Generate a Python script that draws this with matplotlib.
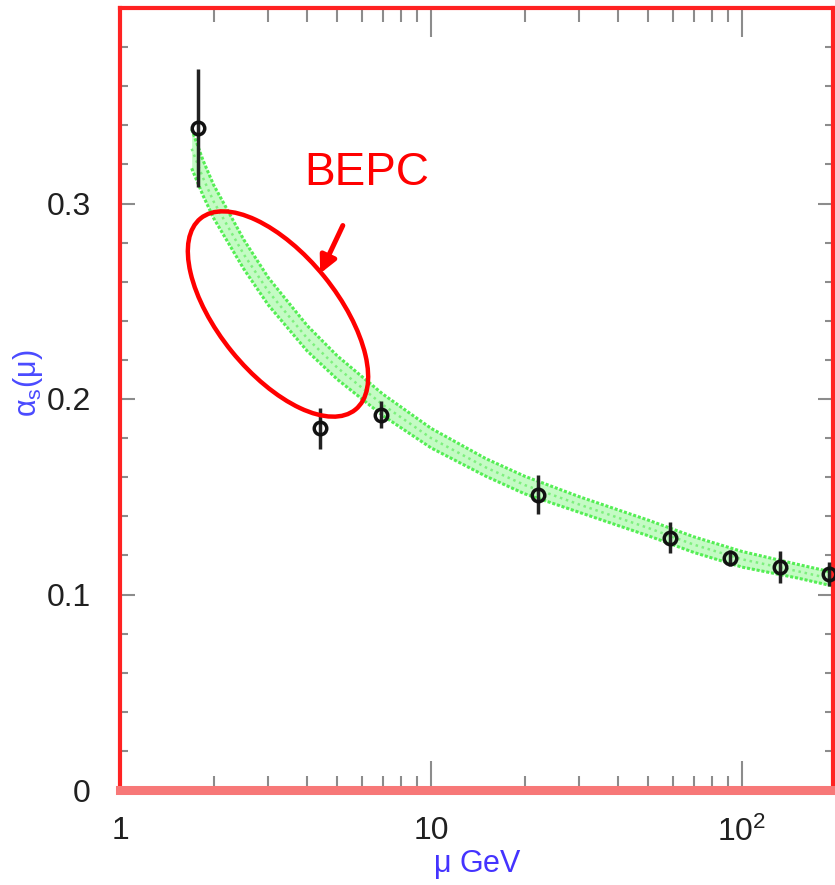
import numpy as np
import matplotlib.pyplot as plt
from matplotlib.patches import Ellipse
from matplotlib.ticker import FixedLocator, FixedFormatter, MultipleLocator

plt.rcParams['font.family'] = ['Liberation Sans', 'DejaVu Sans']
plt.rcParams['mathtext.default'] = 'regular'

# measurements of alpha_s(mu)
mu = [1.78, 4.4, 6.9, 22.1, 58.7, 91.5, 132.5, 190.5]
alpha = [0.3386, 0.185, 0.192, 0.151, 0.129, 0.1187, 0.114, 0.1105]
err = [0.030, 0.0105, 0.007, 0.010, 0.008, 0.004, 0.008, 0.006]

# world-average band (centre and half width)
band_mu = [1.7, 1.85, 2.0, 2.5, 3.0, 4.0, 5.0, 7.0, 10, 15, 20, 30, 50, 70, 100, 150, 200]
band_c = [0.328, 0.313, 0.301, 0.274, 0.255, 0.231, 0.216, 0.197, 0.180, 0.165,
          0.156, 0.146, 0.134, 0.1255, 0.118, 0.112, 0.1075]
band_hw = [0.010, 0.009, 0.0085, 0.0075, 0.007, 0.0065, 0.006, 0.0055, 0.005, 0.0045,
           0.0045, 0.004, 0.004, 0.004, 0.004, 0.0035, 0.0035]

xticks = [1, 10, 100]
xticklabels = ['1', '10', r'$10^2$']

fig = plt.figure(figsize=(8.35, 8.85), dpi=100)
ax = fig.add_axes([120 / 835, 95 / 885, 713 / 835, 782 / 885])

bc = np.array(band_c)
bh = np.array(band_hw)
ax.fill_between(band_mu, bc - bh, bc + bh, color='#7cf87c', alpha=0.45, lw=0)
ax.plot(band_mu, bc + bh, color='#55ee55', lw=2.2, ls=(0, (1, 0.6)))
ax.plot(band_mu, bc - bh, color='#55ee55', lw=2.2, ls=(0, (1, 0.6)))
ax.plot(band_mu, bc, color='#7ef07e', lw=1.8, ls=(0, (1, 1.5)))

ax.errorbar(mu, alpha, yerr=err, fmt='o', color='#111111', ecolor='#222222',
            elinewidth=2.5, capsize=0, markersize=9, markerfacecolor='none',
            markeredgewidth=2.5, clip_on=False, zorder=5)

ax.set_xscale('log')
ax.set_xlim(1, 196)
ax.set_ylim(0, 0.4)

ax.xaxis.set_major_locator(FixedLocator(xticks))
ax.xaxis.set_major_formatter(FixedFormatter(xticklabels))
ax.xaxis.set_minor_locator(FixedLocator([k * d for d in (1, 10, 100) for k in range(2, 10)]))
ax.xaxis.set_minor_formatter(FixedFormatter([]))
ax.yaxis.set_major_locator(FixedLocator([0, 0.1, 0.2, 0.3]))
ax.yaxis.set_major_formatter(FixedFormatter(['0', '0.1', '0.2', '0.3']))
ax.yaxis.set_minor_locator(MultipleLocator(0.02))

ax.tick_params(axis='both', which='both', direction='in', color='#8c8c8c', width=1.5,
               top=True, right=True, labelcolor='#202020', labelsize=23)
ax.tick_params(axis='x', which='major', length=21, pad=19)
ax.tick_params(axis='x', which='minor', length=10)
ax.tick_params(axis='y', which='major', length=11, pad=21)
ax.tick_params(axis='y', which='minor', length=6)

for side in ('left', 'top', 'right'):
    ax.spines[side].set_color('#ff2222')
    ax.spines[side].set_linewidth(3)
ax.spines['bottom'].set_color('#f77878')
ax.spines['bottom'].set_linewidth(6.5)

ax.set_xlabel(r'$\mu$ GeV', color='#4433ff', fontsize=22)
ax.xaxis.set_label_coords(0.502, -0.074)
ax.set_ylabel(r'$\alpha_s(\mu)$', color='#4a4aff', fontsize=22)
ax.yaxis.set_label_coords(-0.105, 0.52)

# BEPC annotation
ell = Ellipse((2.78, 5.71), 2.46, 1.19, angle=-51, fill=False, edgecolor='#ff0000',
              lw=3.2, transform=fig.dpi_scale_trans, zorder=6)
fig.add_artist(ell)
fig.text(367 / 835, 712 / 885, 'BEPC', color='#ff0000', fontsize=33,
         ha='center', va='center')
ax.annotate('', xy=(319, 609), xycoords='figure pixels',
            xytext=(344, 662), textcoords='figure pixels',
            arrowprops=dict(arrowstyle='-|>,head_length=1.0,head_width=0.5',
                            color='#ff0000', lw=3.6))

fig.savefig('out.png', dpi=100)
